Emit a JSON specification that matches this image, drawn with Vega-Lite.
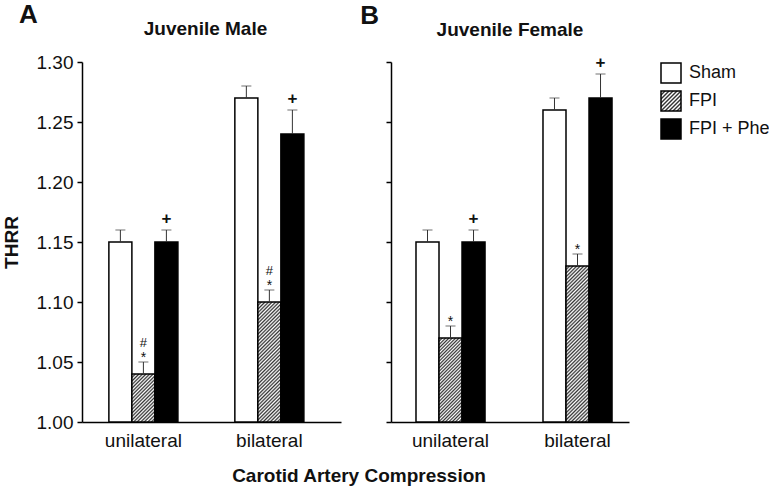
{
  "$schema": "https://vega.github.io/schema/vega-lite/v6.json",
  "background": "white",
  "padding": {"left": 2, "top": 2, "right": 0, "bottom": 1},
  "config": {
    "font": "Liberation Sans",
    "view": {"stroke": null},
    "axis": {"grid": false, "domainColor": "#000", "domainWidth": 1.5, "tickColor": "#000", "tickWidth": 1.5, "labelColor": "#111", "labelFont": "Liberation Sans", "titleFont": "Liberation Sans", "titleColor": "#111"},
    "legend": {"labelFont": "Liberation Sans"}
  },
  "title": {"text": "Carotid Artery Compression", "orient": "bottom", "anchor": "middle", "fontSize": 19, "fontWeight": "bold", "color": "#111", "offset": 17, "dx": -27},
  "datasets": {
    "male": [
      {"region": "unilateral", "group": "Sham", "value": 1.15, "hi": 1.16},
      {"region": "unilateral", "group": "FPI", "value": 1.04, "hi": 1.05},
      {"region": "unilateral", "group": "FPI + Phe", "value": 1.15, "hi": 1.16},
      {"region": "bilateral", "group": "Sham", "value": 1.27, "hi": 1.28},
      {"region": "bilateral", "group": "FPI", "value": 1.10, "hi": 1.11},
      {"region": "bilateral", "group": "FPI + Phe", "value": 1.24, "hi": 1.26}
    ],
    "female": [
      {"region": "unilateral", "group": "Sham", "value": 1.15, "hi": 1.16},
      {"region": "unilateral", "group": "FPI", "value": 1.07, "hi": 1.08},
      {"region": "unilateral", "group": "FPI + Phe", "value": 1.15, "hi": 1.16},
      {"region": "bilateral", "group": "Sham", "value": 1.26, "hi": 1.27},
      {"region": "bilateral", "group": "FPI", "value": 1.13, "hi": 1.14},
      {"region": "bilateral", "group": "FPI + Phe", "value": 1.27, "hi": 1.29}
    ],
    "maleNotes": [
      {"region": "unilateral", "group": "FPI", "top": 1.05, "label": "*"},
      {"region": "unilateral", "group": "FPI", "top": 1.05, "label": "#"},
      {"region": "unilateral", "group": "FPI + Phe", "top": 1.16, "label": "+"},
      {"region": "bilateral", "group": "FPI", "top": 1.11, "label": "*"},
      {"region": "bilateral", "group": "FPI", "top": 1.11, "label": "#"},
      {"region": "bilateral", "group": "FPI + Phe", "top": 1.26, "label": "+"}
    ],
    "femaleNotes": [
      {"region": "unilateral", "group": "FPI", "top": 1.08, "label": "*"},
      {"region": "unilateral", "group": "FPI + Phe", "top": 1.16, "label": "+"},
      {"region": "bilateral", "group": "FPI", "top": 1.14, "label": "*"},
      {"region": "bilateral", "group": "FPI + Phe", "top": 1.29, "label": "+"}
    ]
  },
  "spacing": 19,
  "hconcat": [
    {
      "title": {"text": "A", "anchor": "start", "frame": "bounds", "fontSize": 26, "fontWeight": "bold", "color": "#111", "offset": -6, "dx": 17, "dy": 2},
      "vconcat": [
        {
          "width": 259,
          "height": 360,
          "title": {"text": "Juvenile Male", "anchor": "middle", "fontSize": 19, "fontWeight": "bold", "color": "#111", "offset": 14, "dx": -6},
          "encoding": {
            "x": {"field": "region", "type": "nominal", "sort": ["unilateral", "bilateral"],
                  "scale": {"paddingInner": 0.452, "paddingOuter": 0.254, "align": 0.42},
                  "axis": {"title": null, "labelAngle": 0, "ticks": false, "labelFontSize": 19, "labelPadding": 9}},
            "xOffset": {"field": "group", "type": "nominal", "sort": ["Sham", "FPI", "FPI + Phe"], "scale": {"paddingInner": 0, "paddingOuter": 0}}
          },
          "layer": [
            {
              "data": {"name": "male"},
              "mark": {"type": "bar", "stroke": "#000", "strokeWidth": 1.5},
              "encoding": {
                "y": {"field": "value", "type": "quantitative", "title": "THRR", "scale": {"domain": [1, 1.3], "zero": false, "nice": false},
                      "axis": {"values": [1, 1.05, 1.1, 1.15, 1.2, 1.25, 1.3], "format": ".2f", "titleFontSize": 19, "titleFontWeight": "bold", "titlePadding": 15, "labelFontSize": 19, "labelPadding": 4, "tickSize": 5}},
                "y2": {"datum": 1},
                "fill": {
                  "condition": [
                    {"test": "datum.group === 'FPI' && datum.region === 'unilateral'", "value": {"gradient": "linear", "x1": 0, "y1": 0, "x2": 0.5764, "y2": 1.203, "stops": [{"offset":0,"color":"#333"},{"offset":0.025,"color":"#fff"},{"offset":0.05,"color":"#333"},{"offset":0.075,"color":"#fff"},{"offset":0.1,"color":"#333"},{"offset":0.125,"color":"#fff"},{"offset":0.15,"color":"#333"},{"offset":0.175,"color":"#fff"},{"offset":0.2,"color":"#333"},{"offset":0.225,"color":"#fff"},{"offset":0.25,"color":"#333"},{"offset":0.275,"color":"#fff"},{"offset":0.3,"color":"#333"},{"offset":0.325,"color":"#fff"},{"offset":0.35,"color":"#333"},{"offset":0.375,"color":"#fff"},{"offset":0.4,"color":"#333"},{"offset":0.425,"color":"#fff"},{"offset":0.45,"color":"#333"},{"offset":0.475,"color":"#fff"},{"offset":0.5,"color":"#333"},{"offset":0.525,"color":"#fff"},{"offset":0.55,"color":"#333"},{"offset":0.575,"color":"#fff"},{"offset":0.6,"color":"#333"},{"offset":0.625,"color":"#fff"},{"offset":0.65,"color":"#333"},{"offset":0.675,"color":"#fff"},{"offset":0.7,"color":"#333"},{"offset":0.725,"color":"#fff"},{"offset":0.75,"color":"#333"},{"offset":0.775,"color":"#fff"},{"offset":0.8,"color":"#333"},{"offset":0.825,"color":"#fff"},{"offset":0.85,"color":"#333"},{"offset":0.875,"color":"#fff"},{"offset":0.9,"color":"#333"},{"offset":0.925,"color":"#fff"},{"offset":0.95,"color":"#333"},{"offset":0.975,"color":"#fff"},{"offset":1,"color":"#333"}]}},
                    {"test": "datum.group === 'FPI' && datum.region === 'bilateral'", "value": {"gradient": "linear", "x1": 0, "y1": 0, "x2": 0.2203, "y2": 1.1495, "stops": [{"offset":0,"color":"#333"},{"offset":0.0125,"color":"#fff"},{"offset":0.025,"color":"#333"},{"offset":0.0375,"color":"#fff"},{"offset":0.05,"color":"#333"},{"offset":0.0625,"color":"#fff"},{"offset":0.075,"color":"#333"},{"offset":0.0875,"color":"#fff"},{"offset":0.1,"color":"#333"},{"offset":0.1125,"color":"#fff"},{"offset":0.125,"color":"#333"},{"offset":0.1375,"color":"#fff"},{"offset":0.15,"color":"#333"},{"offset":0.1625,"color":"#fff"},{"offset":0.175,"color":"#333"},{"offset":0.1875,"color":"#fff"},{"offset":0.2,"color":"#333"},{"offset":0.2125,"color":"#fff"},{"offset":0.225,"color":"#333"},{"offset":0.2375,"color":"#fff"},{"offset":0.25,"color":"#333"},{"offset":0.2625,"color":"#fff"},{"offset":0.275,"color":"#333"},{"offset":0.2875,"color":"#fff"},{"offset":0.3,"color":"#333"},{"offset":0.3125,"color":"#fff"},{"offset":0.325,"color":"#333"},{"offset":0.3375,"color":"#fff"},{"offset":0.35,"color":"#333"},{"offset":0.3625,"color":"#fff"},{"offset":0.375,"color":"#333"},{"offset":0.3875,"color":"#fff"},{"offset":0.4,"color":"#333"},{"offset":0.4125,"color":"#fff"},{"offset":0.425,"color":"#333"},{"offset":0.4375,"color":"#fff"},{"offset":0.45,"color":"#333"},{"offset":0.4625,"color":"#fff"},{"offset":0.475,"color":"#333"},{"offset":0.4875,"color":"#fff"},{"offset":0.5,"color":"#333"},{"offset":0.5125,"color":"#fff"},{"offset":0.525,"color":"#333"},{"offset":0.5375,"color":"#fff"},{"offset":0.55,"color":"#333"},{"offset":0.5625,"color":"#fff"},{"offset":0.575,"color":"#333"},{"offset":0.5875,"color":"#fff"},{"offset":0.6,"color":"#333"},{"offset":0.6125,"color":"#fff"},{"offset":0.625,"color":"#333"},{"offset":0.6375,"color":"#fff"},{"offset":0.65,"color":"#333"},{"offset":0.6625,"color":"#fff"},{"offset":0.675,"color":"#333"},{"offset":0.6875,"color":"#fff"},{"offset":0.7,"color":"#333"},{"offset":0.7125,"color":"#fff"},{"offset":0.725,"color":"#333"},{"offset":0.7375,"color":"#fff"},{"offset":0.75,"color":"#333"},{"offset":0.7625,"color":"#fff"},{"offset":0.775,"color":"#333"},{"offset":0.7875,"color":"#fff"},{"offset":0.8,"color":"#333"},{"offset":0.8125,"color":"#fff"},{"offset":0.825,"color":"#333"},{"offset":0.8375,"color":"#fff"},{"offset":0.85,"color":"#333"},{"offset":0.8625,"color":"#fff"},{"offset":0.875,"color":"#333"},{"offset":0.8875,"color":"#fff"},{"offset":0.9,"color":"#333"},{"offset":0.9125,"color":"#fff"},{"offset":0.925,"color":"#333"},{"offset":0.9375,"color":"#fff"},{"offset":0.95,"color":"#333"},{"offset":0.9625,"color":"#fff"},{"offset":0.975,"color":"#333"},{"offset":0.9875,"color":"#fff"},{"offset":1,"color":"#333"}]}}
                  ],
                  "field": "group", "type": "nominal",
                  "scale": {"domain": ["Sham", "FPI", "FPI + Phe"], "range": ["#ffffff", {"expr": "{gradient:'linear',x1:0,y1:0,x2:1,y2:1,stops:[{offset:0,color:'#333'},{offset:0.05,color:'#fff'},{offset:0.1,color:'#333'},{offset:0.15,color:'#fff'},{offset:0.2,color:'#333'},{offset:0.25,color:'#fff'},{offset:0.3,color:'#333'},{offset:0.35,color:'#fff'},{offset:0.4,color:'#333'},{offset:0.45,color:'#fff'},{offset:0.5,color:'#333'},{offset:0.55,color:'#fff'},{offset:0.6,color:'#333'},{offset:0.65,color:'#fff'},{offset:0.7,color:'#333'},{offset:0.75,color:'#fff'},{offset:0.8,color:'#333'},{offset:0.85,color:'#fff'},{offset:0.9,color:'#333'},{offset:0.95,color:'#fff'},{offset:1,color:'#333'}]}"}, "#000000"]},
                  "legend": {"title": null, "orient": "right", "offset": 31, "symbolType": "square", "symbolSize": 400, "symbolStrokeColor": "#000", "symbolStrokeWidth": 1.5, "labelFontSize": 18, "labelColor": "#111", "rowPadding": 2, "labelOffset": 7}
                }
              }
            },
            {
              "data": {"name": "male"},
              "mark": {"type": "rule", "color": "#333", "strokeWidth": 1},
              "encoding": {"y": {"field": "value", "type": "quantitative", "title": "THRR"}, "y2": {"field": "hi"}}
            },
            {
              "data": {"name": "male"},
              "mark": {"type": "tick", "orient": "horizontal", "size": 10, "thickness": 1, "color": "#333"},
              "encoding": {"y": {"field": "hi", "type": "quantitative", "title": "THRR"}}
            },
            {
              "data": {"name": "maleNotes"},
              "transform": [{"filter": "datum.label === '+'"}],
              "mark": {"type": "text", "fontSize": 17, "fontWeight": "bold", "color": "#111", "baseline": "alphabetic", "dy": -6},
              "encoding": {"y": {"field": "top", "type": "quantitative", "title": "THRR"}, "text": {"field": "label"}}
            },
            {
              "data": {"name": "maleNotes"},
              "transform": [{"filter": "datum.label === '*'"}],
              "mark": {"type": "text", "fontSize": 14, "color": "#111", "baseline": "alphabetic", "dy": 0},
              "encoding": {"y": {"field": "top", "type": "quantitative", "title": "THRR"}, "text": {"field": "label"}}
            },
            {
              "data": {"name": "maleNotes"},
              "transform": [{"filter": "datum.label === '#'"}],
              "mark": {"type": "text", "fontSize": 13, "color": "#111", "baseline": "alphabetic", "dy": -15},
              "encoding": {"y": {"field": "top", "type": "quantitative", "title": "THRR"}, "text": {"field": "label"}}
            }
          ]
        }
      ]
    },
    {
      "title": {"text": "B", "anchor": "start", "frame": "bounds", "fontSize": 26, "fontWeight": "bold", "color": "#111", "offset": -6, "dx": -25, "dy": 2},
      "vconcat": [
        {
          "width": 238,
          "height": 360,
          "title": {"text": "Juvenile Female", "anchor": "middle", "fontSize": 19, "fontWeight": "bold", "color": "#111", "offset": 14},
          "encoding": {
            "x": {"field": "region", "type": "nominal", "sort": ["unilateral", "bilateral"],
                  "scale": {"paddingInner": 0.4567, "paddingOuter": 0.1654, "align": 0.595},
                  "axis": {"title": null, "labelAngle": 0, "ticks": false, "labelFontSize": 19, "labelPadding": 9}},
            "xOffset": {"field": "group", "type": "nominal", "sort": ["Sham", "FPI", "FPI + Phe"], "scale": {"paddingInner": 0, "paddingOuter": 0}}
          },
          "layer": [
            {
              "data": {"name": "female"},
              "mark": {"type": "bar", "stroke": "#000", "strokeWidth": 1.5},
              "encoding": {
                "y": {"field": "value", "type": "quantitative", "title": null, "scale": {"domain": [1, 1.3], "zero": false, "nice": false},
                      "axis": {"values": [1, 1.05, 1.1, 1.15, 1.2, 1.25, 1.3], "labels": false, "tickSize": 5}},
                "y2": {"datum": 1},
                "fill": {
                  "condition": [
                    {"test": "datum.group === 'FPI' && datum.region === 'unilateral'", "value": {"gradient": "linear", "x1": 0, "y1": 0, "x2": 0.3245, "y2": 1.185, "stops": [{"offset":0,"color":"#333"},{"offset":0.015625,"color":"#fff"},{"offset":0.03125,"color":"#333"},{"offset":0.046875,"color":"#fff"},{"offset":0.0625,"color":"#333"},{"offset":0.078125,"color":"#fff"},{"offset":0.09375,"color":"#333"},{"offset":0.109375,"color":"#fff"},{"offset":0.125,"color":"#333"},{"offset":0.140625,"color":"#fff"},{"offset":0.15625,"color":"#333"},{"offset":0.171875,"color":"#fff"},{"offset":0.1875,"color":"#333"},{"offset":0.203125,"color":"#fff"},{"offset":0.21875,"color":"#333"},{"offset":0.234375,"color":"#fff"},{"offset":0.25,"color":"#333"},{"offset":0.265625,"color":"#fff"},{"offset":0.28125,"color":"#333"},{"offset":0.296875,"color":"#fff"},{"offset":0.3125,"color":"#333"},{"offset":0.328125,"color":"#fff"},{"offset":0.34375,"color":"#333"},{"offset":0.359375,"color":"#fff"},{"offset":0.375,"color":"#333"},{"offset":0.390625,"color":"#fff"},{"offset":0.40625,"color":"#333"},{"offset":0.421875,"color":"#fff"},{"offset":0.4375,"color":"#333"},{"offset":0.453125,"color":"#fff"},{"offset":0.46875,"color":"#333"},{"offset":0.484375,"color":"#fff"},{"offset":0.5,"color":"#333"},{"offset":0.515625,"color":"#fff"},{"offset":0.53125,"color":"#333"},{"offset":0.546875,"color":"#fff"},{"offset":0.5625,"color":"#333"},{"offset":0.578125,"color":"#fff"},{"offset":0.59375,"color":"#333"},{"offset":0.609375,"color":"#fff"},{"offset":0.625,"color":"#333"},{"offset":0.640625,"color":"#fff"},{"offset":0.65625,"color":"#333"},{"offset":0.671875,"color":"#fff"},{"offset":0.6875,"color":"#333"},{"offset":0.703125,"color":"#fff"},{"offset":0.71875,"color":"#333"},{"offset":0.734375,"color":"#fff"},{"offset":0.75,"color":"#333"},{"offset":0.765625,"color":"#fff"},{"offset":0.78125,"color":"#333"},{"offset":0.796875,"color":"#fff"},{"offset":0.8125,"color":"#333"},{"offset":0.828125,"color":"#fff"},{"offset":0.84375,"color":"#333"},{"offset":0.859375,"color":"#fff"},{"offset":0.875,"color":"#333"},{"offset":0.890625,"color":"#fff"},{"offset":0.90625,"color":"#333"},{"offset":0.921875,"color":"#fff"},{"offset":0.9375,"color":"#333"},{"offset":0.953125,"color":"#fff"},{"offset":0.96875,"color":"#333"},{"offset":0.984375,"color":"#fff"},{"offset":1,"color":"#333"}]}},
                    {"test": "datum.group === 'FPI' && datum.region === 'bilateral'", "value": {"gradient": "linear", "x1": 0, "y1": 0, "x2": 0.1656, "y2": 1.123, "stops": [{"offset":0,"color":"#333"},{"offset":0.01,"color":"#fff"},{"offset":0.02,"color":"#333"},{"offset":0.03,"color":"#fff"},{"offset":0.04,"color":"#333"},{"offset":0.05,"color":"#fff"},{"offset":0.06,"color":"#333"},{"offset":0.07,"color":"#fff"},{"offset":0.08,"color":"#333"},{"offset":0.09,"color":"#fff"},{"offset":0.1,"color":"#333"},{"offset":0.11,"color":"#fff"},{"offset":0.12,"color":"#333"},{"offset":0.13,"color":"#fff"},{"offset":0.14,"color":"#333"},{"offset":0.15,"color":"#fff"},{"offset":0.16,"color":"#333"},{"offset":0.17,"color":"#fff"},{"offset":0.18,"color":"#333"},{"offset":0.19,"color":"#fff"},{"offset":0.2,"color":"#333"},{"offset":0.21,"color":"#fff"},{"offset":0.22,"color":"#333"},{"offset":0.23,"color":"#fff"},{"offset":0.24,"color":"#333"},{"offset":0.25,"color":"#fff"},{"offset":0.26,"color":"#333"},{"offset":0.27,"color":"#fff"},{"offset":0.28,"color":"#333"},{"offset":0.29,"color":"#fff"},{"offset":0.3,"color":"#333"},{"offset":0.31,"color":"#fff"},{"offset":0.32,"color":"#333"},{"offset":0.33,"color":"#fff"},{"offset":0.34,"color":"#333"},{"offset":0.35,"color":"#fff"},{"offset":0.36,"color":"#333"},{"offset":0.37,"color":"#fff"},{"offset":0.38,"color":"#333"},{"offset":0.39,"color":"#fff"},{"offset":0.4,"color":"#333"},{"offset":0.41,"color":"#fff"},{"offset":0.42,"color":"#333"},{"offset":0.43,"color":"#fff"},{"offset":0.44,"color":"#333"},{"offset":0.45,"color":"#fff"},{"offset":0.46,"color":"#333"},{"offset":0.47,"color":"#fff"},{"offset":0.48,"color":"#333"},{"offset":0.49,"color":"#fff"},{"offset":0.5,"color":"#333"},{"offset":0.51,"color":"#fff"},{"offset":0.52,"color":"#333"},{"offset":0.53,"color":"#fff"},{"offset":0.54,"color":"#333"},{"offset":0.55,"color":"#fff"},{"offset":0.56,"color":"#333"},{"offset":0.57,"color":"#fff"},{"offset":0.58,"color":"#333"},{"offset":0.59,"color":"#fff"},{"offset":0.6,"color":"#333"},{"offset":0.61,"color":"#fff"},{"offset":0.62,"color":"#333"},{"offset":0.63,"color":"#fff"},{"offset":0.64,"color":"#333"},{"offset":0.65,"color":"#fff"},{"offset":0.66,"color":"#333"},{"offset":0.67,"color":"#fff"},{"offset":0.68,"color":"#333"},{"offset":0.69,"color":"#fff"},{"offset":0.7,"color":"#333"},{"offset":0.71,"color":"#fff"},{"offset":0.72,"color":"#333"},{"offset":0.73,"color":"#fff"},{"offset":0.74,"color":"#333"},{"offset":0.75,"color":"#fff"},{"offset":0.76,"color":"#333"},{"offset":0.77,"color":"#fff"},{"offset":0.78,"color":"#333"},{"offset":0.79,"color":"#fff"},{"offset":0.8,"color":"#333"},{"offset":0.81,"color":"#fff"},{"offset":0.82,"color":"#333"},{"offset":0.83,"color":"#fff"},{"offset":0.84,"color":"#333"},{"offset":0.85,"color":"#fff"},{"offset":0.86,"color":"#333"},{"offset":0.87,"color":"#fff"},{"offset":0.88,"color":"#333"},{"offset":0.89,"color":"#fff"},{"offset":0.9,"color":"#333"},{"offset":0.91,"color":"#fff"},{"offset":0.92,"color":"#333"},{"offset":0.93,"color":"#fff"},{"offset":0.94,"color":"#333"},{"offset":0.95,"color":"#fff"},{"offset":0.96,"color":"#333"},{"offset":0.97,"color":"#fff"},{"offset":0.98,"color":"#333"},{"offset":0.99,"color":"#fff"},{"offset":1,"color":"#333"}]}}
                  ],
                  "field": "group", "type": "nominal",
                  "legend": {"title": null, "orient": "right", "offset": 31, "symbolType": "square", "symbolSize": 400, "symbolStrokeColor": "#000", "symbolStrokeWidth": 1.5, "labelFontSize": 18, "labelColor": "#111", "rowPadding": 2, "labelOffset": 7}
                }
              }
            },
            {
              "data": {"name": "female"},
              "mark": {"type": "rule", "color": "#333", "strokeWidth": 1},
              "encoding": {"y": {"field": "value", "type": "quantitative", "title": null}, "y2": {"field": "hi"}}
            },
            {
              "data": {"name": "female"},
              "mark": {"type": "tick", "orient": "horizontal", "size": 10, "thickness": 1, "color": "#333"},
              "encoding": {"y": {"field": "hi", "type": "quantitative", "title": null}}
            },
            {
              "data": {"name": "femaleNotes"},
              "transform": [{"filter": "datum.label === '+'"}],
              "mark": {"type": "text", "fontSize": 17, "fontWeight": "bold", "color": "#111", "baseline": "alphabetic", "dy": -6},
              "encoding": {"y": {"field": "top", "type": "quantitative", "title": null}, "text": {"field": "label"}}
            },
            {
              "data": {"name": "femaleNotes"},
              "transform": [{"filter": "datum.label === '*'"}],
              "mark": {"type": "text", "fontSize": 14, "color": "#111", "baseline": "alphabetic", "dy": 0},
              "encoding": {"y": {"field": "top", "type": "quantitative", "title": null}, "text": {"field": "label"}}
            }
          ]
        }
      ]
    }
  ]
}
